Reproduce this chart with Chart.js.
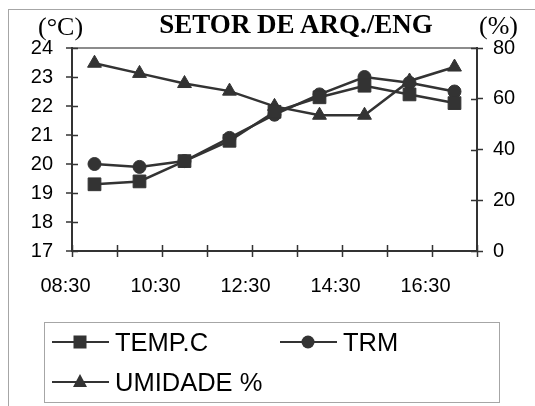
<!DOCTYPE html>
<html>
<head>
<meta charset="utf-8">
<script src="https://cdn.jsdelivr.net/npm/chart.js@4/dist/chart.umd.min.js"></script>
<style>
  html, body { margin: 0; padding: 0; background: #fff; overflow: hidden; }
  #stage { position: relative; width: 535px; height: 406px; }
  #frame { position: absolute; left: 8px; top: 9px; width: 600px; height: 500px; border: 1.5px solid #a6a6a6; }
  canvas { position: absolute; left: 0; top: 0; }
  .txt { position: absolute; white-space: nowrap; line-height: 1; color: #000; }
  .serif { font-family: "Liberation Serif", "Times New Roman", serif; }
  .sans { font-family: "Liberation Sans", Arial, sans-serif; }
  #legend { position: absolute; left: 44px; top: 322px; width: 454px; height: 79px; border: 1.5px solid #a6a6a6; }
  #legend svg { position: absolute; overflow: visible; }
</style>
</head>
<body>
<div id="stage">
  <div id="frame"></div>
  <canvas id="chart" width="535" height="406"></canvas>
  <div class="txt serif" style="left:0;width:592px;text-align:center;top:11px;font-size:27px;font-weight:bold;">SETOR DE ARQ./ENG</div>
  <div class="txt serif" style="left:38px;top:14px;font-size:26px;">(°C)</div>
  <div class="txt serif" style="left:479px;top:13px;font-size:26px;">(%)</div>
  <div id="legend"></div>
</div>
<script>
const hours = ["08:30", "09:30", "10:30", "11:30", "12:30", "13:30", "14:30", "15:30", "16:30"];
const tempC = [19.3, 19.4, 20.1, 20.8, 21.8, 22.3, 22.7, 22.4, 22.1];
const trm = [20.0, 19.9, 20.1, 20.9, 21.7, 22.4, 23.0, 22.8, 22.5];
const umidade = [74, 70, 66, 63, 57, 53.5, 53.5, 67, 72.5];
const seriesNames = ["TEMP.C", "TRM", "UMIDADE %"];

const ink = "#333333";
const tickFont = { family: "'Liberation Sans', Arial, sans-serif", size: 20 };

// Excel style tick marks cross the axis: Chart.js draws the outer half, this adds the inner half
const crossTicks = {
  id: "crossTicks",
  afterDatasetsDraw(chart) {
    const { ctx, chartArea, scales } = chart;
    const len = 6;
    ctx.save();
    ctx.strokeStyle = ink;
    ctx.lineWidth = 1.5;
    ctx.beginPath();
    scales.y.ticks.forEach((t, i) => {
      const py = Math.round(scales.y.getPixelForTick(i)) + 0.5;
      ctx.moveTo(chartArea.left, py);
      ctx.lineTo(chartArea.left + len, py);
    });
    scales.y1.ticks.forEach((t, i) => {
      const py = Math.round(scales.y1.getPixelForTick(i)) + 0.5;
      ctx.moveTo(chartArea.right - len, py);
      ctx.lineTo(chartArea.right, py);
    });
    for (let i = 0; i <= hours.length; i++) {
      const px = Math.round(scales.x.getPixelForValue(i - 0.5)) + 0.5;
      ctx.moveTo(px, chartArea.bottom - len);
      ctx.lineTo(px, chartArea.bottom);
    }
    ctx.stroke();
    ctx.restore();
  },
};

function lineSet(label, data, style, radius, axis) {
  return {
    label,
    data,
    yAxisID: axis,
    borderColor: ink,
    backgroundColor: ink,
    borderWidth: 2.5,
    tension: 0,
    pointStyle: style,
    pointRadius: radius,
    pointHoverRadius: radius,
    pointBackgroundColor: ink,
    pointBorderColor: ink,
    pointBorderWidth: 1,
  };
}

new Chart(document.getElementById("chart"), {
  type: "line",
  data: {
    labels: hours,
    datasets: [
      lineSet(seriesNames[0], tempC, "rect", 9, "y"),
      lineSet(seriesNames[1], trm, "circle", 6.5, "y"),
      lineSet(seriesNames[2], umidade, "triangle", 8, "y1"),
    ],
  },
  options: {
    responsive: false,
    animation: false,
    events: [],
    layout: { autoPadding: false, padding: { top: 48, left: 0, right: 0, bottom: 0 } },
    scales: {
      x: {
        offset: true,
        afterFit: (s) => { s.height = 155; },
        grid: { offset: true, drawOnChartArea: false, color: ink, tickColor: ink, tickLength: 6, tickWidth: 1.5 },
        border: { color: ink, width: 2 },
        ticks: {
          autoSkip: false,
          maxRotation: 0,
          padding: 17,
          labelOffset: -29,
          color: "#000",
          font: tickFont,
          callback: (v, i) => (i % 2 === 0 ? hours[i] : ""),
        },
      },
      y: {
        position: "left",
        min: 17,
        max: 24,
        afterFit: (s) => { s.width = 72; },
        grid: {
          drawOnChartArea: true,
          color: (c) => (c.tick && c.tick.value === 24 ? "#8c8c8c" : "rgba(0,0,0,0)"),
          lineWidth: 2,
          tickColor: ink,
          tickLength: 6,
          tickWidth: 1.5,
        },
        border: { color: ink, width: 2 },
        ticks: { stepSize: 1, padding: 13, color: "#000", font: tickFont },
      },
      y1: {
        position: "right",
        min: 0,
        max: 80,
        afterFit: (s) => { s.width = 58; },
        grid: { drawOnChartArea: false, tickColor: ink, tickLength: 6, tickWidth: 1.5 },
        border: { color: ink, width: 2 },
        ticks: { stepSize: 20, padding: 10, color: "#000", font: tickFont },
      },
    },
    plugins: { legend: { display: false }, title: { display: false }, tooltip: { enabled: false } },
  },
  plugins: [crossTicks],
});

// legend in an Excel style box
const legendItems = [
  { name: seriesNames[0], marker: "rect", x: 7, y: 19 },
  { name: seriesNames[1], marker: "circle", x: 235, y: 19 },
  { name: seriesNames[2], marker: "triangle", x: 7, y: 59 },
];
const legendEl = document.getElementById("legend");
legendItems.forEach((it) => {
  let mark = "";
  if (it.marker === "rect") mark = '<rect x="21.5" y="-6.5" width="13" height="13" fill="' + ink + '"/>';
  if (it.marker === "circle") mark = '<circle cx="28" cy="0" r="6.5" fill="' + ink + '"/>';
  if (it.marker === "triangle") mark = '<polygon points="28,-8 35,5 21,5" fill="' + ink + '"/>';
  const svg = document.createElementNS("http://www.w3.org/2000/svg", "svg");
  svg.setAttribute("width", "57");
  svg.setAttribute("height", "1");
  svg.style.left = it.x + "px";
  svg.style.top = it.y + "px";
  svg.innerHTML = '<line x1="0" y1="0" x2="57" y2="0" stroke="' + ink + '" stroke-width="2"/>' + mark;
  legendEl.appendChild(svg);
  const t = document.createElement("div");
  t.className = "txt sans";
  t.style.left = it.x + 63 + "px";
  t.style.top = it.y - 12.5 + "px";
  t.style.fontSize = "25.5px";
  t.textContent = it.name;
  legendEl.appendChild(t);
});
</script>
</body>
</html>
